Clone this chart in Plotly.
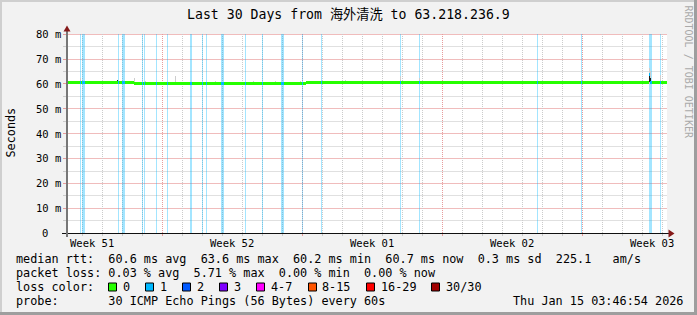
import math
import numpy as np
import plotly.graph_objects as go

# ------------------------------------------------------------------ data
TITLE = "Last 30 Days from 海外清洗 to 63.218.236.9"
Y_AXIS_TITLE = "Seconds"
Y_TICK_MS = [0, 10, 20, 30, 40, 50, 60, 70, 80]
Y_TICK_NUM = ["0", "10", "20", "30", "40", "50", "60", "70", "80"]
Y_TICK_UNIT = ["", "m", "m", "m", "m", "m", "m", "m", "m"]
Y_MINOR_MS = [5, 15, 25, 35, 45, 55, 65, 75]
WEEK_LABELS = ["Week 51", "Week 52", "Week 01", "Week 02", "Week 03"]
WEEK_LABEL_DAY = [1.25, 8.25, 15.25, 22.25, 29.25]      # days since graph start
WEEK_START_DAY = [4.775, 11.775, 18.775, 25.775]
FIRST_MIDNIGHT_DAY = 0.775
SPAN_DAYS = 30

# median rtt (ms) as steps: MEDIAN_MS[i] holds from MEDIAN_EDGE_DAY[i] to MEDIAN_EDGE_DAY[i+1]
MEDIAN_EDGE_DAY = [0.0, 3.35, 3.65, 6.25, 6.4, 8.55, 8.65, 11.25, 11.35, 11.95,
                   14.6, 14.65, 19.3, 19.35, 22.0, 22.05, 29.1, 29.15, 30.0]
MEDIAN_MS = [60.7, 60.1, 60.3, 60.1, 60.3, 60.1, 60.3, 60.1, 60.3, 60.7,
             60.5, 60.7, 60.5, 60.7, 60.5, 60.7, 63.6, 60.7]

# packet loss events: centre (days), duration (days), lost pings of 30
LOSS_MID_DAY = [0.675, 0.825, 2.575, 2.825, 3.775, 3.875, 4.475, 5.025, 6.2, 6.775,
                6.975, 7.775, 8.925, 9.775, 10.775, 11.775, 12.725, 16.675, 17.625,
                23.525, 25.725, 29.175, 29.675]
LOSS_LEN_DAY = [0.05, 0.15, 0.05, 0.15, 0.05, 0.05, 0.05, 0.05, 0.1, 0.05,
                0.05, 0.15, 0.05, 0.05, 0.15, 0.05, 0.05, 0.05, 0.05,
                0.05, 0.05, 0.15, 0.05]
LOSS_PINGS = [1] * 23

# smoke (spread of the 30 pings) per 72-minute sample
SAMPLE_DAYS = 0.05
SMOKE_DAY = [0.675, 0.925, 1.325, 1.575, 2.175, 2.525, 3.375, 3.925, 5.425, 7.425,
             9.325, 10.425, 11.675, 13.925, 14.125, 16.675, 17.625, 18.525, 20.175,
             21.675, 23.925, 26.675, 27.675, 29.125, 29.175, 29.675]
SMOKE_LO_MS = [60.0] * 26
SMOKE_HI_MS = [62.3, 61.3, 61.2, 61.3, 61.2, 61.3, 62.3, 61.0, 63.0, 61.0,
               61.0, 61.2, 61.3, 61.4, 61.3, 63.0, 62.3, 61.3, 61.3,
               61.3, 61.3, 61.3, 61.3, 66.3, 65.0, 63.6]
DENSE_DAY = [2.525, 29.125, 29.175]
DENSE_LO_MS = [60.7, 60.7, 60.7]
DENSE_HI_MS = [61.6, 64.0, 62.5]

LOSS_CLASS_LABELS = ["0", "1", "2", "3", "4-7", "8-15", "16-29", "30/30"]
LOSS_CLASS_COLORS = ["#26ff00", "#00b8ff", "#0059ff", "#7e00ff",
                     "#ff00ff", "#ff5500", "#ff0000", "#a10000"]
LOSS_CLASS_MAX = [0, 1, 2, 3, 7, 15, 29, 30]

STAT_LINES = [
    "median rtt:  60.6 ms avg  63.6 ms max  60.2 ms min  60.7 ms now  0.3 ms sd  225.1   am/s",
    "packet loss: 0.03 % avg  5.71 % max  0.00 % min  0.00 % now",
]
LOSS_CAPTION = "loss color:"
PROBE_LINE = "probe:       30 ICMP Echo Pings (56 Bytes) every 60s"
TIMESTAMP = "Thu Jan 15 03:46:54 2026"
WATERMARK = "RRDTOOL / TOBI OETIKER"

# ------------------------------------------------------------------ layout constants
W, H = 697, 315
X0, X1, Y0, Y1 = 67, 667, 34, 233          # plot area in pixels
MONO = "DejaVu Sans Mono, Noto Sans CJK SC, monospace"
CHAR_W = 7.104                              # advance of 11.8px DejaVu Sans Mono
TICK_SIZE = 10.5
TICK_CHAR_W = 0.602 * TICK_SIZE
GRID_MINOR = "#cbcbcb"
GRID_MAJOR = "#e79c9c"
HGRID_MINOR = "#e0e0e0"                    # solid rows, toned like the dotted rows
HGRID_MAJOR = "#f0bcbc"
ARROW = "#851a1a"
YMAX = Y_TICK_MS[-1]
PX_PER_MS = (Y1 - Y0) / YMAX
PX_PER_DAY = (X1 - X0) / SPAN_DAYS
HALF_LINE_MS = 1.5 / PX_PER_MS              # 3px median line


def pp(px, py):
    return (px - X0) / (X1 - X0), (Y1 - py) / (Y1 - Y0)


def nb(s):
    return s.replace(" ", "\u00a0")


def loss_class(n):
    for i, m in enumerate(LOSS_CLASS_MAX):
        if n <= m:
            return i
    return len(LOSS_CLASS_MAX) - 1


def rgba(hexcol, a):
    r, g, b = int(hexcol[1:3], 16), int(hexcol[3:5], 16), int(hexcol[5:7], 16)
    return f"rgba({r},{g},{b},{a})"


edges = np.array(MEDIAN_EDGE_DAY)
med = np.array(MEDIAN_MS)


def median_at(t):
    i = int(np.searchsorted(edges, t, side="right") - 1)
    return med[min(max(i, 0), len(med) - 1)]


loss_lo = [m - l / 2 for m, l in zip(LOSS_MID_DAY, LOSS_LEN_DAY)]
loss_hi = [m + l / 2 for m, l in zip(LOSS_MID_DAY, LOSS_LEN_DAY)]


def loss_at(t):
    for a, b, n in zip(loss_lo, loss_hi, LOSS_PINGS):
        if a <= t < b:
            return n
    return 0


bounds = sorted(set([round(v, 4) for v in MEDIAN_EDGE_DAY + loss_lo + loss_hi]))
seg_x, seg_w, seg_base, seg_col = [], [], [], []
for a, b in zip(bounds[:-1], bounds[1:]):
    if b - a < 1e-6:
        continue
    mid = (a + b) / 2
    seg_x.append(mid)
    seg_w.append(b - a)
    seg_base.append(median_at(mid) - HALF_LINE_MS)
    seg_col.append(rgba(LOSS_CLASS_COLORS[loss_class(loss_at(mid))], 0.999))


def row_of(v):
    return math.floor(Y1 - v * PX_PER_MS + 0.2) + 0.5


fig = go.Figure()
# loss background
fig.add_bar(x=LOSS_MID_DAY, y=[YMAX] * len(LOSS_MID_DAY), base=0, width=LOSS_LEN_DAY,
            marker=dict(color=[rgba(LOSS_CLASS_COLORS[loss_class(n)], 0.36) for n in LOSS_PINGS],
                        line=dict(width=0)), hoverinfo="skip")
# smoke
fig.add_bar(x=SMOKE_DAY, y=[h - l for h, l in zip(SMOKE_HI_MS, SMOKE_LO_MS)], base=SMOKE_LO_MS,
            width=SAMPLE_DAYS, marker=dict(color="rgba(205,205,205,0.999)", line=dict(width=0)),
            hoverinfo="skip")
fig.add_bar(x=DENSE_DAY, y=[h - l for h, l in zip(DENSE_HI_MS, DENSE_LO_MS)], base=DENSE_LO_MS,
            width=SAMPLE_DAYS, marker=dict(color="rgba(30,30,30,0.999)", line=dict(width=0)),
            hoverinfo="skip")
# median coloured by loss
fig.add_bar(x=seg_x, y=[2 * HALF_LINE_MS] * len(seg_x), base=seg_base, width=seg_w,
            marker=dict(color=seg_col, line=dict(width=0)), hoverinfo="skip")

fig.update_layout(
    template="none", width=W, height=H,
    margin=dict(l=X0, r=W - X1, t=Y0, b=H - Y1, pad=0, autoexpand=False),
    paper_bgcolor="#f2f2f2", plot_bgcolor="#ffffff",
    showlegend=False, barmode="overlay", bargap=0, bargroupgap=0,
    font=dict(family=MONO, color="#000000"),
)
fig.update_xaxes(range=[0, SPAN_DAYS], fixedrange=True, showline=False, zeroline=False,
                 automargin=False, showgrid=False, ticks="", showticklabels=False)
fig.update_yaxes(range=[0, YMAX], fixedrange=True, showline=False, zeroline=False,
                 automargin=False, showgrid=False, ticks="", showticklabels=False)

ann = []
shapes = []


def text_at(px, py, s, size=11.8, xanchor="left", color="#000000", angle=0):
    x, y = pp(px, py)
    ann.append(dict(x=x, y=y, xref="paper", yref="paper", text=nb(s), showarrow=False,
                    xanchor=xanchor, yanchor="middle", textangle=angle,
                    borderpad=0, borderwidth=0,
                    font=dict(family=MONO, size=size, color=color)))


def line_px(xa, ya, xb, yb, color, width=1, dash="solid", layer="above"):
    a = pp(xa, ya)
    b = pp(xb, yb)
    shapes.append(dict(type="line", xref="paper", yref="paper", x0=a[0], y0=a[1], x1=b[0], y1=b[1],
                       line=dict(color=color, width=width, dash=dash), layer=layer))


def poly_px(pts, color):
    path = "M " + " L ".join(f"{pp(x, y)[0]:.5f},{pp(x, y)[1]:.5f}" for x, y in pts) + " Z"
    shapes.append(dict(type="path", xref="paper", yref="paper", path=path,
                       fillcolor=color, line=dict(width=0)))


def hgrid(v, row_color, tick_color):
    r = row_of(v)
    yv = (Y1 - r) / PX_PER_MS
    shapes.append(dict(type="line", xref="x", yref="y", x0=0, x1=SPAN_DAYS, y0=yv, y1=yv,
                       line=dict(color=row_color, width=1), layer="below"))
    line_px(63, r, X0, r, tick_color, 1)


for v in Y_MINOR_MS:
    hgrid(v, HGRID_MINOR, GRID_MINOR)
for v in Y_TICK_MS[1:]:
    hgrid(v, HGRID_MAJOR, GRID_MAJOR)

# y tick labels (unit-less label keeps the unit column empty, like rrdtool)
for v, num, unit in zip(Y_TICK_MS, Y_TICK_NUM, Y_TICK_UNIT):
    right = 60.8 - (0 if unit else 2 * TICK_CHAR_W)
    label = num + (" " + unit if unit else "")
    text_at(right, Y1 - v * PX_PER_MS, label, size=TICK_SIZE, xanchor="right")

# vertical grid + x ticks (data coordinates)
ta, tb = pp(0, Y1 + 1)[1], pp(0, Y1 + 3)[1]
day = FIRST_MIDNIGHT_DAY
while day < SPAN_DAYS:
    major = any(abs(day - w) < 1e-6 for w in WEEK_START_DAY)
    col = GRID_MAJOR if major else GRID_MINOR
    shapes.append(dict(type="line", xref="x", yref="y", x0=day, x1=day, y0=0, y1=YMAX,
                       line=dict(color=col, width=1, dash="1px,1px"), layer="below"))
    shapes.append(dict(type="line", xref="x", yref="paper", x0=day, x1=day, y0=ta, y1=tb,
                       line=dict(color=col, width=1), layer="above"))
    day += 1

text_at(W / 2, 14.5, TITLE, size=13.2, xanchor="center")
text_at(10.5, 133, Y_AXIS_TITLE, angle=-90, xanchor="center")
text_at(688.5, 72, WATERMARK, size=10, xanchor="center", color="#aaaaaa", angle=90)
for lab, d in zip(WEEK_LABELS, WEEK_LABEL_DAY):
    ann.append(dict(x=d, y=pp(0, 243)[1], xref="x", yref="paper", text=nb(lab),
                    showarrow=False, xanchor="center", yanchor="middle", borderpad=0,
                    font=dict(family=MONO, size=TICK_SIZE, color="#000000")))

LEG_X = 16
ROW_Y = [259.3, 273.3, 287.3, 301.0]
text_at(LEG_X, ROW_Y[0], STAT_LINES[0])
text_at(LEG_X, ROW_Y[1], STAT_LINES[1])
text_at(LEG_X, ROW_Y[2], LOSS_CAPTION)
text_at(LEG_X, ROW_Y[3], PROBE_LINE)
text_at(513, ROW_Y[3], TIMESTAMP)

bx = LEG_X + 13 * CHAR_W
for lab, col in zip(LOSS_CLASS_LABELS, LOSS_CLASS_COLORS):
    x0 = round(bx) + 0.5
    a = pp(x0, ROW_Y[2] - 4.3)
    b = pp(x0 + 8, ROW_Y[2] + 3.7)
    shapes.append(dict(type="rect", xref="paper", yref="paper", x0=a[0], y0=a[1], x1=b[0], y1=b[1],
                       fillcolor=col, line=dict(color="#000000", width=1)))
    lx = bx + 14.7
    text_at(lx, ROW_Y[2], lab)
    bx = lx + len(lab) * CHAR_W + 15.2

# axes with arrows
line_px(62, 233.5, 669, 233.5, "#101010", 1)
line_px(67, 237, 67, 31, "#777777", 2)
poly_px([(63.5, 31.5), (67, 25.5), (70.5, 31.5)], ARROW)
poly_px([(668.5, 229.5), (674.5, 233.5), (668.5, 237.5)], ARROW)


# 3-D frame
def rect(xa, ya_, xb, yb_, c):
    poly_px([(xa, ya_), (xb, ya_), (xb, yb_), (xa, yb_)], c)


rect(0, 0, W, 2, "#cfcfcf")
rect(0, 0, 2, H, "#cfcfcf")
rect(0, H - 3, W, H, "#9e9e9e")
rect(W - 3, 0, W, H, "#9e9e9e")

fig.update_layout(annotations=ann, shapes=shapes)
fig.write_html("out.html")
